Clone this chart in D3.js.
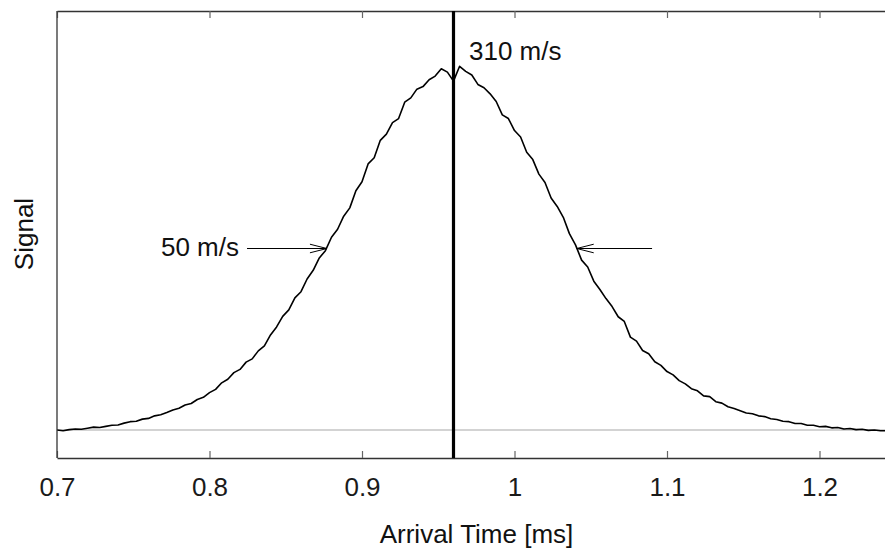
<!DOCTYPE html>
<html>
<head>
<meta charset="utf-8">
<script src="https://cdn.jsdelivr.net/npm/d3@7"></script>
<style>
  body { margin: 0; background: #fff; }
  text { font-family: "Liberation Sans", Arial, sans-serif; }
</style>
</head>
<body>
<script>
'use strict';

// sampled signal, first sample at tStart, one sample every tStep [ms]
const tStart = 0.700;
const tStep = 0.004;
const signal = [
  0.000, -0.002, 0.001, 0.003, 0.002, 0.005, 0.008, 0.007, 0.010, 0.013,
  0.014, 0.019, 0.023, 0.024, 0.030, 0.032, 0.039, 0.042, 0.048, 0.055,
  0.060, 0.069, 0.073, 0.084, 0.090, 0.103, 0.112, 0.130, 0.140, 0.158,
  0.167, 0.187, 0.196, 0.218, 0.232, 0.262, 0.284, 0.313, 0.331, 0.364,
  0.381, 0.416, 0.440, 0.474, 0.494, 0.531, 0.553, 0.589, 0.612, 0.659,
  0.684, 0.733, 0.750, 0.798, 0.815, 0.847, 0.858, 0.903, 0.915, 0.939,
  0.946, 0.965, 0.975, 0.995, 0.986, 0.961, 1.002, 0.988, 0.978, 0.952,
  0.943, 0.926, 0.905, 0.868, 0.858, 0.825, 0.807, 0.765, 0.745, 0.705,
  0.682, 0.639, 0.616, 0.586, 0.541, 0.510, 0.468, 0.449, 0.410, 0.387,
  0.362, 0.340, 0.312, 0.299, 0.256, 0.245, 0.219, 0.210, 0.188, 0.178,
  0.161, 0.152, 0.136, 0.127, 0.114, 0.108, 0.094, 0.092, 0.078, 0.074,
  0.064, 0.059, 0.053, 0.047, 0.045, 0.039, 0.037, 0.031, 0.029, 0.024,
  0.023, 0.018, 0.018, 0.013, 0.013, 0.009, 0.010, 0.006, 0.007, 0.003,
  0.004, 0.001, 0.002, -0.001, 0.000, -0.002, -0.002
];

const xTicks = [0.7, 0.8, 0.9, 1.0, 1.1, 1.2];
const peakTime = 0.96;           // thick marker line
const peakLabel = "310 m/s";
const halfLevel = 0.5;           // arrows at half maximum
const leftArrow = [0.8246, 0.877];   // [tail, tip]
const rightArrow = [1.0902, 1.0408]; // [tail, tip]
const widthLabel = "50 m/s";

(function () {

  let svgContainer = d3.select('body')
    .append('svg')
    .attr('width', 885)
    .attr('height', 549);

  let xScale = d3.scaleLinear()
    .domain([0.7, 0.7 + 828 / 1525])
    .range([57, 885]);

  let yScale = d3.scaleLinear()
    .domain([-0.0771, 1.1543])
    .range([458, 11]);

  // clip to plot area
  svgContainer.append('defs').append('clipPath')
    .attr('id', 'plotClip')
    .append('rect')
    .attr('x', 57).attr('y', 11)
    .attr('width', 828).attr('height', 447);

  // zero line
  svgContainer.append('line')
    .attr('x1', xScale.range()[0])
    .attr('x2', xScale.range()[1])
    .attr('y1', yScale(0))
    .attr('y2', yScale(0))
    .attr('stroke', '#c4c4c4')
    .attr('stroke-width', 1.5);

  // signal curve
  let line = d3.line()
    .x((d, i) => xScale(tStart + i * tStep))
    .y(d => yScale(d));

  svgContainer.append('path')
    .datum(signal)
    .attr('clip-path', 'url(#plotClip)')
    .attr('d', line)
    .attr('fill', 'none')
    .attr('stroke', '#000')
    .attr('stroke-width', 1.6)
    .attr('stroke-linejoin', 'round');

  // axes: bottom with labels, top ticks only, left border
  let xAxis = d3.axisBottom(xScale)
    .tickValues(xTicks)
    .tickFormat(d => String(d))
    .tickSizeInner(-7)
    .tickSizeOuter(0)
    .tickPadding(20);

  let gx = svgContainer.append('g')
    .attr('transform', 'translate(0,458)')
    .call(xAxis);

  let xTop = d3.axisTop(xScale)
    .tickValues(xTicks)
    .tickFormat('')
    .tickSizeInner(-7)
    .tickSizeOuter(0);

  let gt = svgContainer.append('g')
    .attr('transform', 'translate(0,11)')
    .call(xTop);

  [gx, gt].forEach(g => {
    g.select('.domain').attr('stroke', '#333').attr('stroke-width', 1.3);
    g.selectAll('.tick line').attr('stroke', '#666').attr('stroke-width', 1.2);
  });
  gx.selectAll('.tick text')
    .attr('fill', '#1a1a1a')
    .style('font-size', '26px')
    .style('font-family', '"Liberation Sans", Arial, sans-serif');

  svgContainer.append('line')
    .attr('x1', 57).attr('x2', 57)
    .attr('y1', 11).attr('y2', 458)
    .attr('stroke', '#333')
    .attr('stroke-width', 1.3);

  // peak marker
  svgContainer.append('line')
    .attr('x1', xScale(peakTime)).attr('x2', xScale(peakTime))
    .attr('y1', 11).attr('y2', 458)
    .attr('stroke', '#000')
    .attr('stroke-width', 3.2);

  svgContainer.append('text')
    .attr('x', xScale(peakTime) + 15.5)
    .attr('y', 60)
    .style('font-size', '26px')
    .attr('fill', '#111')
    .text(peakLabel);

  // half-width arrows
  function drawArrow(tail, tip) {
    let y = yScale(halfLevel);
    let x0 = xScale(tail), x1 = xScale(tip);
    let dir = x1 > x0 ? 1 : -1;
    svgContainer.append('line')
      .attr('x1', x0).attr('x2', x1)
      .attr('y1', y).attr('y2', y)
      .attr('stroke', '#000')
      .attr('stroke-width', 1.2);
    svgContainer.append('path')
      .attr('d', 'M' + (x1 - dir * 17) + ',' + (y - 4.3) +
        'L' + x1 + ',' + y +
        'L' + (x1 - dir * 17) + ',' + (y + 4.3))
      .attr('fill', 'none')
      .attr('stroke', '#000')
      .attr('stroke-width', 1);
  }
  drawArrow(leftArrow[0], leftArrow[1]);
  drawArrow(rightArrow[0], rightArrow[1]);

  svgContainer.append('text')
    .attr('x', xScale(leftArrow[0]) - 8)
    .attr('y', yScale(halfLevel) + 7)
    .attr('text-anchor', 'end')
    .style('font-size', '26px')
    .attr('fill', '#111')
    .text(widthLabel);

  // axis titles
  svgContainer.append('text')
    .attr('x', 476.5)
    .attr('y', 543)
    .attr('text-anchor', 'middle')
    .style('font-size', '26px')
    .attr('fill', '#111')
    .text('Arrival Time [ms]');

  svgContainer.append('text')
    .attr('transform', 'translate(33, 234)rotate(-90)')
    .attr('text-anchor', 'middle')
    .style('font-size', '26px')
    .attr('fill', '#111')
    .text('Signal');

})();
</script>
</body>
</html>
